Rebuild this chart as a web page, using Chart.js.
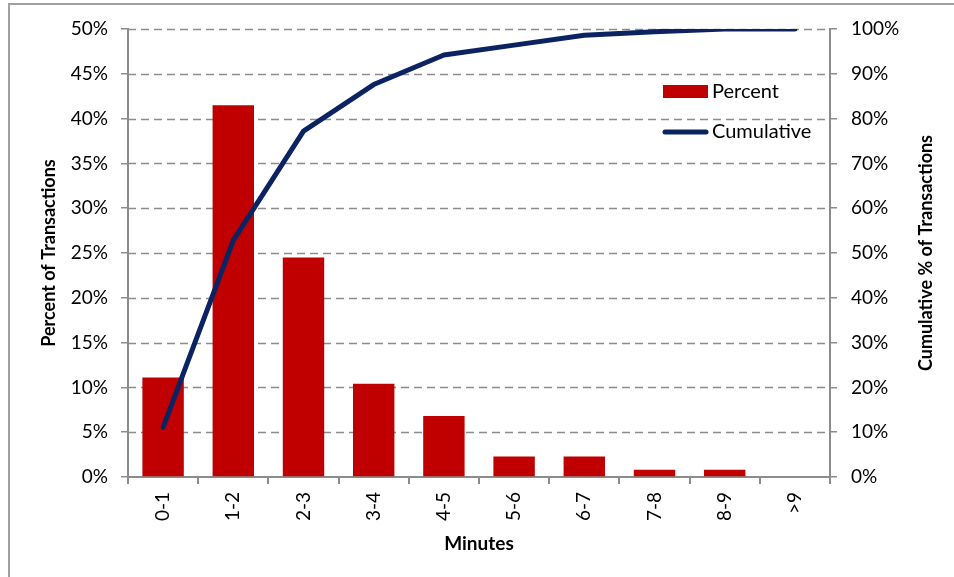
<!DOCTYPE html>
<html>
<head>
<meta charset="utf-8">
<script src="https://cdn.jsdelivr.net/npm/chart.js@4/dist/chart.umd.min.js"></script>
<style>
  body { margin: 0; background: #fff; }
</style>
</head>
<body>
<canvas id="timeChart" width="954" height="577"></canvas>
<script>
const categories = ["0-1", "1-2", "2-3", "3-4", "4-5", "5-6", "6-7", "7-8", "8-9", ">9"];
const percentValues = [11.1, 41.5, 24.5, 10.4, 6.8, 2.3, 2.3, 0.8, 0.8, 0];
const cumulativeValues = [11.1, 52.8, 77.2, 87.6, 94.2, 96.4, 98.6, 99.4, 100, 100];
const leftTicks = [0, 5, 10, 15, 20, 25, 30, 35, 40, 45, 50];
const rightTicks = [0, 10, 20, 30, 40, 50, 60, 70, 80, 90, 100];

const fontFamily = "Lato, 'Open Sans', sans-serif";
const barColor = "#c00000";
const lineColor = "#0b2461";
const axisColor = "#8c8c8c";

// frame, dashed grid, custom legend and right-hand title
const extras = {
    id: "extras",
    beforeDraw(chart) {
        const ctx = chart.ctx;
        ctx.save();
        ctx.fillStyle = "#fff";
        ctx.fillRect(0, 0, chart.width, chart.height);
        ctx.strokeStyle = "#a0a0a0";
        ctx.lineWidth = 2;
        ctx.strokeRect(9, 4, chart.width + 20, chart.height + 20);
        ctx.restore();
    },
    beforeDatasetsDraw(chart) {
        const ctx = chart.ctx;
        const area = chart.chartArea;
        const y = chart.scales.y;
        ctx.save();
        ctx.strokeStyle = axisColor;
        ctx.lineWidth = 1.5;
        ctx.setLineDash([8, 5]);
        leftTicks.forEach(v => {
            if (v === 0) return;
            const py = Math.round(y.getPixelForValue(v)) + 0.5;
            ctx.beginPath();
            ctx.moveTo(area.left, py);
            ctx.lineTo(area.right, py);
            ctx.stroke();
        });
        ctx.restore();
    },
    afterDraw(chart) {
        const ctx = chart.ctx;
        const area = chart.chartArea;
        ctx.save();

        const lx = area.right - 167;
        ctx.fillStyle = barColor;
        ctx.fillRect(lx, area.top + 56, 45, 13);

        ctx.strokeStyle = lineColor;
        ctx.lineWidth = 5;
        ctx.lineCap = "round";
        ctx.beginPath();
        ctx.moveTo(lx + 2, area.top + 103);
        ctx.lineTo(lx + 43, area.top + 103);
        ctx.stroke();

        ctx.fillStyle = "#000";
        ctx.font = "20px " + fontFamily;
        ctx.textBaseline = "middle";
        ctx.textAlign = "left";
        ctx.fillText("Percent", lx + 49, area.top + 63);
        ctx.fillText("Cumulative", lx + 49, area.top + 103);

        ctx.font = "bold 18px " + fontFamily;
        ctx.textAlign = "center";
        ctx.translate(926, (area.top + area.bottom) / 2);
        ctx.rotate(-Math.PI / 2);
        ctx.fillText("Cumulative % of Transactions", 0, 0);
        ctx.restore();
    }
};

new Chart(document.getElementById("timeChart"), {
    data: {
        labels: categories,
        datasets: [
            {
                type: "line",
                label: "Cumulative",
                data: cumulativeValues,
                yAxisID: "y1",
                borderColor: lineColor,
                borderWidth: 5,
                pointRadius: 0,
                tension: 0,
                borderCapStyle: "round",
                borderJoinStyle: "round",
                order: 0
            },
            {
                type: "bar",
                label: "Percent",
                data: percentValues,
                yAxisID: "y",
                backgroundColor: barColor,
                barPercentage: 0.59,
                categoryPercentage: 1,
                order: 1
            }
        ]
    },
    options: {
        responsive: false,
        animation: false,
        layout: { padding: { top: 29, left: 0, right: 0, bottom: 0 } },
        plugins: {
            legend: { display: false },
            tooltip: { enabled: false }
        },
        scales: {
            x: {
                offset: true,
                grid: {
                    offset: true,
                    drawOnChartArea: false,
                    drawTicks: true,
                    tickLength: 7,
                    color: axisColor,
                    lineWidth: 2
                },
                border: { color: axisColor, width: 2 },
                ticks: {
                    minRotation: 90,
                    maxRotation: 90,
                    padding: 8,
                    color: "#000",
                    font: { family: fontFamily, size: 19 }
                },
                title: {
                    display: true,
                    text: "Minutes",
                    color: "#000",
                    font: { family: fontFamily, size: 19, weight: "bold" },
                    padding: { top: 4, bottom: 22 }
                },
                afterFit(scale) { scale.height = 100; }
            },
            y: {
                position: "left",
                min: 0,
                max: 50,
                afterBuildTicks(scale) { scale.ticks = leftTicks.map(v => ({ value: v })); },
                grid: {
                    drawOnChartArea: false,
                    tickLength: 7,
                    color: axisColor,
                    lineWidth: 1.5
                },
                border: { color: axisColor, width: 2 },
                ticks: {
                    padding: 13,
                    color: "#000",
                    font: { family: fontFamily, size: 19 },
                    callback: v => v + "%"
                },
                title: {
                    display: true,
                    text: "Percent of Transactions",
                    color: "#000",
                    font: { family: fontFamily, size: 18, weight: "bold" },
                    padding: { top: 38, bottom: 0 }
                },
                afterFit(scale) { scale.width = 128; }
            },
            y1: {
                position: "right",
                min: 0,
                max: 100,
                afterBuildTicks(scale) { scale.ticks = rightTicks.map(v => ({ value: v })); },
                grid: {
                    drawOnChartArea: false,
                    tickLength: 7,
                    color: axisColor,
                    lineWidth: 1.5
                },
                border: { color: axisColor, width: 2 },
                ticks: {
                    padding: 14,
                    color: "#000",
                    font: { family: fontFamily, size: 19 },
                    callback: v => v + "%"
                },
                afterFit(scale) { scale.width = 124; }
            }
        }
    },
    plugins: [extras]
});
</script>
</body>
</html>
